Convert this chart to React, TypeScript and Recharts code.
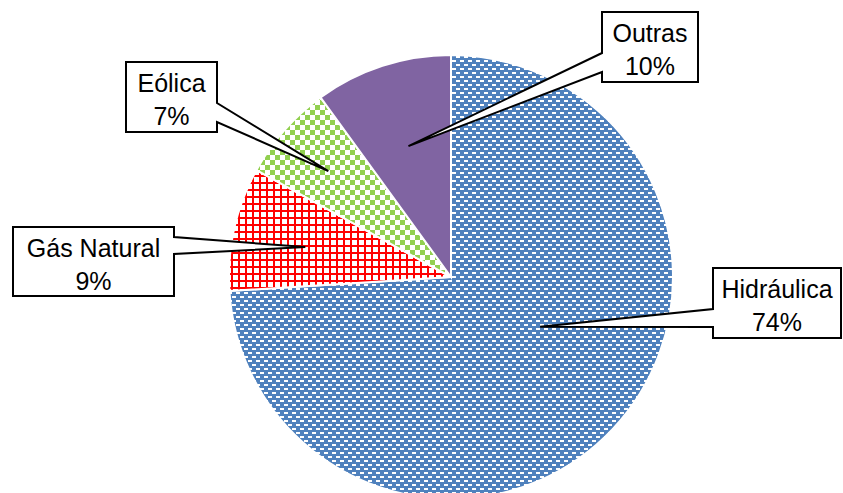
import { PieChart, Pie, Cell } from 'recharts'

const sources = ['Hidráulica', 'Gás Natural', 'Eólica', 'Outras']
const shares = [74, 9, 7, 10]
const fills = ['url(#hidro)', 'url(#gas)', 'url(#eolica)', '#8064A2']

// callout boxes placed by hand (like the original), tip goes into the slice
const boxes = [
  { x: 713, y: 268, w: 128, h: 70, side: 'left', y1: 309, y2: 327, da: 14, rf: 0.46 },
  { x: 13, y: 227, w: 161, h: 69, side: 'right', y1: 237, y2: 254, da: 1, rf: 0.67 },
  { x: 126, y: 62, w: 91, h: 70, side: 'right', y1: 103, y2: 122, da: 0.6, rf: 0.73 },
  { x: 602, y: 12, w: 96, h: 70, side: 'left', y1: 53, y2: 72, da: 0, rf: 0.62 },
]

const data = sources.map((name, i) => ({ name, value: shares[i] }))
const RAD = Math.PI / 180

function Callout(props: any) {
  const { cx, cy, midAngle, outerRadius, index, name, value } = props
  const b = boxes[index]
  const a = (midAngle + b.da) * RAD
  const r = outerRadius * b.rf
  const tx = cx + r * Math.cos(a)
  const ty = cy - r * Math.sin(a)
  const r2 = b.x + b.w
  const b2 = b.y + b.h
  let d = ''
  if (b.side === 'left') {
    d = `M${b.x},${b.y} L${r2},${b.y} L${r2},${b2} L${b.x},${b2} L${b.x},${b.y2} L${tx},${ty} L${b.x},${b.y1} Z`
  } else {
    d = `M${b.x},${b.y} L${r2},${b.y} L${r2},${b.y1} L${tx},${ty} L${r2},${b.y2} L${r2},${b2} L${b.x},${b2} Z`
  }
  const mx = b.x + b.w / 2
  const my = b.y + b.h / 2
  return (
    <g>
      <path d={d} fill="#fff" stroke="#000" strokeWidth={2} strokeLinejoin="miter" />
      <text x={mx} y={my - 5} textAnchor="middle" fontSize={25} fill="#000" fontFamily="'Liberation Sans', Arial, sans-serif">
        {name}
      </text>
      <text x={mx} y={my + 28} textAnchor="middle" fontSize={25} fill="#000" fontFamily="'Liberation Sans', Arial, sans-serif">
        {value}%
      </text>
    </g>
  )
}

export default function App() {
  return (
    <div style={{ position: 'absolute', left: 0, top: 0, width: 843, height: 493, background: '#fff' }}>
      <svg width={0} height={0} style={{ position: 'absolute' }}>
        <defs>
          <pattern id="hidro" width={8} height={8} patternUnits="userSpaceOnUse">
            <rect width={8} height={8} fill="#4F81BD" />
            <rect x={0} y={0} width={4} height={2} fill="#fff" />
            <rect x={4} y={4} width={4} height={2} fill="#fff" />
          </pattern>
          <pattern id="gas" width={7} height={7} patternUnits="userSpaceOnUse">
            <rect width={7} height={7} fill="#fff" />
            <rect x={0} y={0} width={2} height={7} fill="#FF0000" />
            <rect x={0} y={0} width={7} height={2} fill="#FF0000" />
          </pattern>
          <pattern id="eolica" width={10} height={10} patternUnits="userSpaceOnUse">
            <rect width={10} height={10} fill="#fff" />
            <rect x={0} y={0} width={5} height={5} fill="#92D050" />
            <rect x={5} y={5} width={5} height={5} fill="#92D050" />
          </pattern>
        </defs>
      </svg>
      <PieChart width={843} height={493} margin={{ top: 0, right: 0, bottom: 0, left: 0 }}>
        <Pie
          data={data}
          dataKey="value"
          nameKey="name"
          cx={451}
          cy={277}
          outerRadius={222}
          startAngle={90}
          endAngle={-270}
          stroke="#fff"
          strokeWidth={2}
          labelLine={false}
          label={Callout}
          isAnimationActive={false}
        >
          {data.map((d, i) => (
            <Cell key={d.name} fill={fills[i]} />
          ))}
        </Pie>
      </PieChart>
    </div>
  )
}
